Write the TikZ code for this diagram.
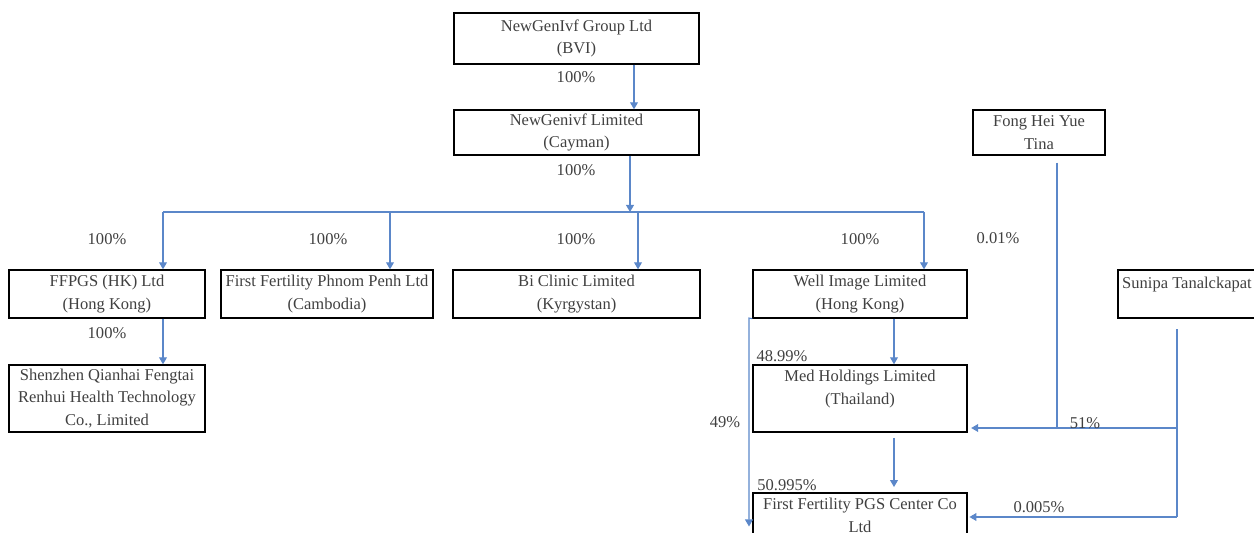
\documentclass[tikz,border=0pt]{standalone}
\usepackage{fontspec}
\setmainfont{Liberation Serif}
\usepackage{xcolor}
\usepackage{tikz}
\usetikzlibrary{arrows.meta, positioning}

\definecolor{linkblue}{HTML}{5B87C9}
\definecolor{txtgray}{HTML}{404040}
\newcommand{\entfont}{\fontsize{9.4}{13}\selectfont}

\tikzset{
    entity/.style={draw=black, line width=0.8pt, text=txtgray, align=center, inner sep=1pt, font=\entfont},
    linkline/.style={draw=linkblue, line width=0.6pt},
    link/.style={linkline, -{Triangle[width=4.5pt,length=4pt]}},
    pct/.style={text=txtgray, font=\entfont, inner sep=0pt}
}

\begin{document}
\begin{tikzpicture}[x=0.02cm, y=-0.02cm]
        \useasboundingbox (0,0) rectangle (1254,533);

        % holding companies
        \node[entity, minimum width=4.9cm, minimum height=1.02cm] (ngf_bvi) at (576.5,38.5) {NewGenIvf Group Ltd\\(BVI)};
        \node[entity, minimum width=4.9cm, minimum height=0.9cm] (ngf_cay) at (576.5,132.5) {NewGenivf Limited\\(Cayman)};
        \node[entity, minimum width=2.64cm, minimum height=0.9cm] (fong) at (1039,132.5) {Fong Hei Yue\\Tina};

        % subsidiaries
        \node[entity, minimum width=3.92cm, minimum height=0.96cm] (ffpgs_hk) at (107,294) {FFPGS (HK) Ltd\\(Hong Kong)};
        \node[entity, minimum width=4.24cm, minimum height=0.96cm] (ff_pp) at (327,294) {First Fertility Phnom Penh Ltd\\(Cambodia)};
        \node[entity, minimum width=4.94cm, minimum height=0.96cm] (bi_kg) at (576.5,294) {Bi Clinic Limited\\(Kyrgystan)};
        \node[entity, minimum width=4.28cm, minimum height=0.96cm] (well_hk) at (860,294) {Well Image Limited\\(Hong Kong)};
        \node[entity, minimum width=2.76cm, minimum height=0.96cm] (sunipa) at (1187,294) {Sunipa Tanalckapat\\\mbox{}};

        \node[entity, minimum width=3.92cm, minimum height=1.34cm] (sz_cn) at (107,398.5) {Shenzhen Qianhai Fengtai\\Renhui Health Technology\\Co., Limited};
        \node[entity, minimum width=4.28cm, minimum height=1.34cm] (med_th) at (860,398.5) {Med Holdings Limited\\(Thailand)\\\mbox{}};
        \node[entity, minimum width=4.28cm, minimum height=1.34cm] (pgs_th) at (860,526.5) {First Fertility PGS Center Co\\Ltd\\\mbox{}};

        \coordinate (top_x) at (634,0);
        \coordinate (bus_in) at (630,212);
        \coordinate (bus_L) at (163,212);
        \coordinate (bus_pp) at (390,212);
        \coordinate (bus_bi) at (638,212);
        \coordinate (bus_R) at (924,212);
        \coordinate (med_x) at (894,0);
        \coordinate (left_x) at (749,318);
        \coordinate (fong_x) at (1057,428);
        \coordinate (j51) at (1177,428);
        \coordinate (j05) at (1177,517);

        \draw[link] (ngf_bvi.south -| top_x) -- (ngf_cay.north -| top_x);
        \draw[link] (ngf_cay.south -| bus_in) -- (bus_in);
        \draw[linkline] (bus_L) -- (bus_R);
        \draw[link] (bus_L) -- (ffpgs_hk.north -| bus_L);
        \draw[link] (bus_pp) -- (ff_pp.north -| bus_pp);
        \draw[link] (bus_bi) -- (bi_kg.north -| bus_bi);
        \draw[link] (bus_R) -- (well_hk.north -| bus_R);
        \draw[link] (ffpgs_hk.south -| bus_L) -- (sz_cn.north -| bus_L);

        \draw[link] (well_hk.south -| med_x) -- (med_th.north -| med_x);
        \draw[link, shorten <=3pt, shorten >=3pt] (med_th.south -| med_x) -- (pgs_th.north -| med_x);
        \draw[link] (well_hk.south west) -- (left_x) -- (left_x |- pgs_th.west);

        \draw[linkline, shorten <=4pt] (fong.south -| fong_x) -- (fong_x);
        \draw[linkline, shorten <=6pt] (sunipa.south -| j51) -- (j05);
        \draw[link, shorten >=2pt] (j51) -- (j51 -| med_th.east);
        \draw[link, shorten >=1pt] (j05) -- (j05 -| pgs_th.east);

        % percentages
        \node[pct] (p_bvi) at (576,77) {100\%};
        \node[pct] (p_cay) at (576,170) {100\%};
        \node[pct] (p_ffpgs) at (107,239) {100\%};
        \node[pct] (p_pp) at (328,239) {100\%};
        \node[pct] (p_bi) at (576,239) {100\%};
        \node[pct] (p_well) at (860,239) {100\%};
        \node[pct] (p_fong) at (998,238) {0.01\%};
        \node[pct] (p_sz) at (107,333) {100\%};
        \node[pct] (p_med) at (782,356) {48.99\%};
        \node[pct] (p_49) at (725,422) {49\%};
        \node[pct] (p_pgs) at (787,485) {50.995\%};
        \node[pct] (p_51) at (1085,423) {51\%};
        \node[pct] (p_005) at (1039,507) {0.005\%};

\end{tikzpicture}
\end{document}
